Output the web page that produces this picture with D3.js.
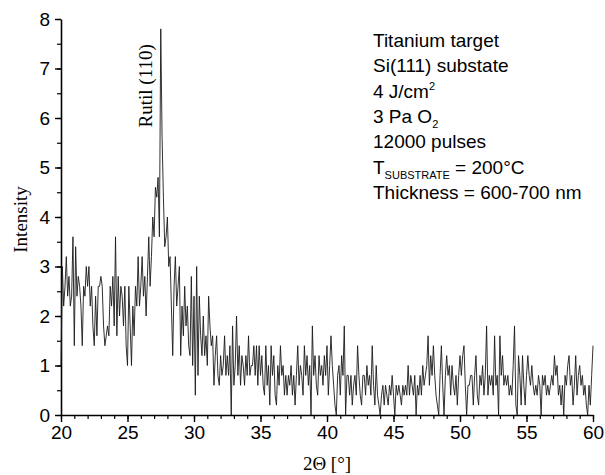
<!DOCTYPE html>
<html>
<head>
<meta charset="utf-8">
<script src="https://cdn.jsdelivr.net/npm/d3@7"></script>
<style>
  body { margin: 0; background: #fff; }
  svg { display: block; }
  .tick text { font-family: "Liberation Sans", Arial, sans-serif; font-size: 19px; fill: #000; }
  .axis path, .axis line { stroke: #000; }
</style>
</head>
<body>
<script>
const width = 605;
const height = 475;
const m = {left: 61, right: 12, top: 19, bottom: 60};

// scan: 2Theta from 20 to 60 deg, step 0.1
const thetaStart = 20;
const thetaStep = 0.1;

// intensity per 0.1 deg, one row per degree (20.x ... 59.x), then 60.0
const intensity = [
  1.0,3.0,2.2,2.6,3.2,2.4,2.8,2.2,2.4,3.6,
  1.4,3.4,2.4,2.8,2.6,2.2,1.4,2.6,2.4,3.0,
  2.6,3.0,2.2,2.6,1.8,1.4,2.4,1.6,2.6,2.6,
  2.8,2.6,1.8,1.4,1.6,1.8,1.6,2.6,2.2,2.8,
  1.8,3.6,1.6,2.8,2.0,2.6,2.4,1.8,2.6,1.4,
  1.0,2.6,1.8,1.0,2.2,1.6,2.6,2.2,3.2,2.2,
  2.6,3.2,2.4,2.8,2.0,2.8,3.6,2.6,3.2,4.0,
  3.6,4.6,4.4,4.8,3.6,7.8,5.6,4.4,3.4,3.6,
  4.0,3.0,3.2,2.2,1.2,2.6,3.2,2.2,2.6,3.0,
  1.2,2.2,1.6,2.6,1.8,2.2,1.4,1.2,2.8,1.0,
  2.4,0.4,3.0,0.8,2.4,1.6,1.2,2.0,1.2,1.6,
  1.0,2.4,1.8,1.4,1.6,0.6,1.2,1.6,0.8,0.6,
  1.2,0.8,1.0,1.6,0.8,1.2,0.8,1.4,0,1.8,
  0.6,1.0,2.0,0.8,1.4,0.6,1.2,1.0,0.6,1.2,
  0.8,1.6,0.8,1.0,1.0,1.4,0.8,1.4,0.6,1.4,
  0.8,1.2,0.6,0.4,1.4,0.6,1.0,0.2,1.4,0.8,
  1.2,0.4,0.2,1.0,0.6,1.4,0.8,1.0,0.4,0.8,
  0.4,0.8,0.6,1.0,0.4,0.8,0.2,0.8,1.4,0.6,
  1.0,0.8,0.4,1.4,0.8,1.2,0.6,1.0,0,1.8,
  0.8,1.2,0.6,0.4,1.2,0.8,1.0,0.6,1.2,0.8,
  1.4,0.4,1.0,1.6,1.0,0.6,0.2,0,0.8,1.0,
  0.4,1.2,0.8,1.8,0,0.8,0.8,0.4,0.8,0.2,
  0.6,0.8,0.4,1.4,0.8,0.4,0.2,0.8,0.8,0.4,
  1.0,0.6,0.8,0.4,1.4,0.6,0.2,1.0,0.4,0.2,
  0,0.4,0.6,0.2,0.6,0.4,0.2,0.6,0.4,0.8,
  0.4,0,0.6,0.4,0.6,0.4,0.2,0.6,0.4,0.6,
  0.4,1.0,0.4,0.8,0.6,0.4,0.8,0,0.6,0.4,
  0.8,0.4,1.0,0.6,0.8,1.0,1.6,0.6,1.2,0.8,
  1.4,0.8,0.4,0.2,0,0.8,1.4,0.6,0,0.8,
  1.2,0.8,1.0,0.4,1.0,0.6,0.4,0.8,0.2,0.8,
  1.2,0.8,1.2,1.4,0.6,0,0.6,0.6,0.8,0.8,
  0.2,0.8,1.2,0.4,0.2,0.8,0.6,1.0,0.4,0.8,
  1.8,0.4,0.8,0.6,0.8,0.4,1.6,0.6,0.8,0,
  1.6,0.8,1.2,0.6,0.8,0.6,0.8,0.4,0.6,0.4,
  1.0,1.8,0.2,0,1.2,0.8,0.2,1.2,0.6,0.2,
  0.8,1.2,0.8,0.6,1.0,0.6,0.4,0.6,0.4,0.8,
  0.6,0,0.8,0.6,0.8,0.4,0.6,0.4,0.6,0.8,
  0.6,1.2,0.8,1.0,0.4,0.6,0.2,0.6,0,0.8,
  0.6,1.0,1.2,0.6,0.8,0.2,0.6,1.2,0.4,0.8,
  1.0,0.6,0.8,0.4,0.6,0.2,0,0.6,0.2,0.8,
  1.4
];

const xTicks = [20, 25, 30, 35, 40, 45, 50, 55, 60];
const yTicks = [0, 1, 2, 3, 4, 5, 6, 7, 8];

const peakLabel = 'Rutil (110)';
const peakTheta = 27.5;

const notes = ['Titanium target', 'Si(111) substate', '4 J/cm|2', '3 Pa O_2',
               '12000 pulses', 'T_SUBSTRATE| = 200°C', 'Thickness = 600-700 nm'];

const svg = d3.select('body').append('svg')
  .attr('width', width)
  .attr('height', height);

const x = d3.scaleLinear().domain([20, 60]).range([m.left, width - m.right]);
const y = d3.scaleLinear().domain([0, 8]).range([height - m.bottom, m.top]);

const data = intensity.map((v, i) => [thetaStart + i * thetaStep, v]);

// minor ticks first
svg.append('g')
  .attr('class', 'axis')
  .attr('transform', `translate(0,${y(0)})`)
  .call(d3.axisBottom(x).ticks(40).tickSize(4).tickSizeOuter(0).tickFormat(''))
  .call(g => g.select('.domain').remove())
  .selectAll('line').attr('stroke-width', 1.2);

svg.append('g')
  .attr('class', 'axis')
  .attr('transform', `translate(${x(20)},0)`)
  .call(d3.axisLeft(y).ticks(16).tickSize(4).tickSizeOuter(0).tickFormat(''))
  .call(g => g.select('.domain').remove())
  .selectAll('line').attr('stroke-width', 1.2);

const xAxis = svg.append('g')
  .attr('class', 'axis')
  .attr('transform', `translate(0,${y(0)})`)
  .call(d3.axisBottom(x).tickValues(xTicks).tickSize(7).tickSizeOuter(0).tickPadding(4));
xAxis.select('.domain').attr('stroke-width', 1.6);
xAxis.selectAll('line').attr('stroke-width', 1.4);

const yAxis = svg.append('g')
  .attr('class', 'axis')
  .attr('transform', `translate(${x(20)},0)`)
  .call(d3.axisLeft(y).tickValues(yTicks).tickSize(6).tickSizeOuter(0).tickPadding(5));
yAxis.select('.domain').attr('stroke-width', 1.6);
yAxis.selectAll('line').attr('stroke-width', 1.4);

svg.append('path')
  .datum(data)
  .attr('fill', 'none')
  .attr('stroke', '#1a1a1a')
  .attr('stroke-width', 0.9)
  .attr('d', d3.line().x(d => x(d[0])).y(d => y(d[1])));

// axis titles
svg.append('text')
  .attr('x', (x(20) + x(60)) / 2)
  .attr('y', 470)
  .attr('text-anchor', 'middle')
  .style('font-family', '"Liberation Serif", "Times New Roman", serif')
  .style('font-size', '19px')
  .text('2Θ [°]');

svg.append('text')
  .attr('transform', `translate(27,${y(3.95)}) rotate(-90)`)
  .attr('text-anchor', 'middle')
  .style('font-family', '"Liberation Serif", "Times New Roman", serif')
  .style('font-size', '19px')
  .text('Intensity');

svg.append('text')
  .attr('transform', `translate(${x(peakTheta) - 9},${y(6.65)}) rotate(-90)`)
  .attr('text-anchor', 'middle')
  .style('font-family', '"Liberation Serif", "Times New Roman", serif')
  .style('font-size', '19px')
  .text(peakLabel);

// sample notes
const notesG = svg.append('g')
  .style('font-family', '"Liberation Sans", Arial, sans-serif')
  .style('font-size', '19px');

notes.forEach((s, i) => {
  const t = notesG.append('text').attr('x', 373).attr('y', 47 + i * 25.3);
  if (s.includes('|')) {
    const [a, b] = s.split('|');
    if (a.includes('_')) {
      const [base, sub] = a.split('_');
      t.append('tspan').text(base);
      t.append('tspan').attr('dy', 5).style('font-size', '11px').text(sub);
      t.append('tspan').attr('dy', -5).text(b);
    } else {
      t.append('tspan').text(a);
      t.append('tspan').attr('dy', -8).style('font-size', '11px').text(b);
    }
  } else if (s.includes('_')) {
    const [base, sub] = s.split('_');
    t.append('tspan').text(base);
    t.append('tspan').attr('dy', 5).style('font-size', '11px').text(sub);
  } else {
    t.text(s);
  }
});
</script>
</body>
</html>
